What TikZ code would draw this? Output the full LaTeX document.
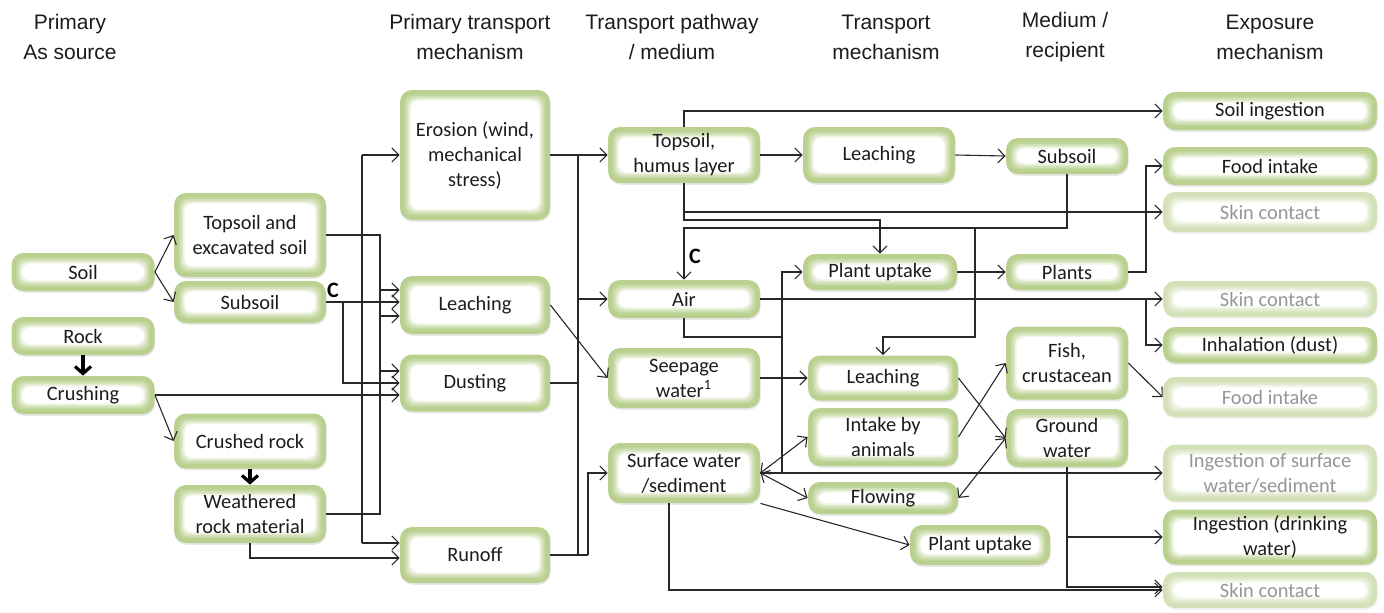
\documentclass[tikz,border=0pt]{standalone}
\usepackage{fontspec}
\setmainfont{Carlito}
\newfontfamily\hdrfont{Liberation Sans}
\usetikzlibrary{arrows.meta,shadows,calc}
\definecolor{gA}{RGB}{186,208,142}
\definecolor{gF}{RGB}{210,225,184}
\definecolor{txt}{RGB}{28,28,28}
\definecolor{ftxt}{RGB}{150,150,150}
\definecolor{ln}{RGB}{40,40,40}
\tikzset{
  sz/.style 2 args={minimum width=#1*0.5pt, minimum height=#2*0.5pt},
  gb/.style={rounded corners=6pt, fill=gA, inner sep=0pt, align=center,
    font=\fontsize{10.2}{12.5}\selectfont, text=txt,
    drop shadow={opacity=0.18, shadow xshift=0.3pt, shadow yshift=-0.9pt},
    path picture={
      \foreach \d/\m in {2.2/85,3.1/65,3.9/45,4.6/25,5.3/0}{
        \fill[gA!\m!white, rounded corners=4pt]
          ([shift={(\d pt,\d pt)}]path picture bounding box.south west) rectangle
          ([shift={(-\d pt,-\d pt)}]path picture bounding box.north east);
      }}},
  gbf/.style={rounded corners=6pt, fill=gF, inner sep=0pt, align=center,
    font=\fontsize{10.2}{12.5}\selectfont, text=ftxt,
    drop shadow={opacity=0.10, shadow xshift=0.3pt, shadow yshift=-0.9pt},
    path picture={
      \foreach \d/\m in {2.2/85,3.1/65,3.9/45,4.6/25,5.3/0}{
        \fill[gF!\m!white, rounded corners=4pt]
          ([shift={(\d pt,\d pt)}]path picture bounding box.south west) rectangle
          ([shift={(-\d pt,-\d pt)}]path picture bounding box.north east);
      }}},
  hdr/.style={align=center, inner sep=0pt, text=txt, font=\hdrfont\fontsize{10.5}{15}\selectfont},
  clab/.style={inner sep=0pt, text=black, font=\bfseries\fontsize{11}{12}\selectfont},
  ln/.style={draw=ln, line width=0.55pt},
  arr/.style={ln, -{Straight Barb[length=3.5pt,width=7pt]}},
  dbl/.style={ln, {Straight Barb[length=3.5pt,width=7pt]}-{Straight Barb[length=3.5pt,width=7pt]}},
  thk/.style={draw=black, line width=1.6pt, -{Straight Barb[length=3.5pt,width=8pt]}},
}
\begin{document}
\begin{tikzpicture}[x=0.5pt,y=-0.5pt]
\useasboundingbox (0,0) rectangle (1384,612);

% headers
\node[hdr] (h1) at (70,37) {Primary\\As source};
\node[hdr] (h2) at (470,37) {Primary transport\\mechanism};
\node[hdr] (h3) at (672,37) {Transport pathway\\/ medium};
\node[hdr] (h4) at (886,37) {Transport\\mechanism};
\node[hdr] (h5) at (1065,37) {Medium /\\recipient};
\node[hdr] (h6) at (1270,37) {Exposure\\mechanism};

% column 1
\node[gb, sz={143}{38}] (soil) at (83,272) {Soil};
\node[gb, sz={143}{38}] (rock) at (83,336) {Rock};
\node[gb, sz={143}{38}] (crush) at (83,395) {Crushing};
% column 2
\node[gb, sz={152}{84}] (tsoil) at (250,235) {Topsoil and\\excavated soil};
\node[gb, sz={152}{42}] (ssoil) at (250,302) {Subsoil};
\node[gb, sz={152}{55}] (crock) at (250,441) {Crushed rock};
\node[gb, sz={152}{58}] (wrock) at (250,514) {Weathered\\rock material};
% column 3
\node[gb, sz={150}{130}] (eros) at (475,155) {Erosion (wind,\\mechanical\\stress)};
\node[gb, sz={150}{58}] (leach) at (475,305) {Leaching};
\node[gb, sz={150}{57}] (dust) at (475,383) {Dusting};
\node[gb, sz={150}{56}] (runoff) at (475,555) {Runoff};
% column 4
\node[gb, sz={152}{56}] (humus) at (684,155) {Topsoil,\\humus layer};
\node[gb, sz={152}{38}] (air) at (684,299) {Air};
\node[gb, sz={152}{60}] (seep) at (684,378) {Seepage\\water\textsuperscript{1}};
\node[gb, sz={152}{60}] (surf) at (684,473) {Surface water\\/sediment};
% column 5
\node[gb, sz={152}{56}] (leach2) at (879,155) {Leaching};
\node[gb, sz={154}{36}] (plant) at (880,272) {Plant uptake};
\node[gb, sz={150}{45}] (leach3) at (883,378) {Leaching};
\node[gb, sz={150}{58}] (intake) at (883,437) {Intake by\\animals};
\node[gb, sz={150}{32}] (flow) at (883,498) {Flowing};
\node[gb, sz={140}{40}] (plant2) at (980,545) {Plant uptake};
% column 6
\node[gb, sz={122}{36}] (sub2) at (1067,156) {Subsoil};
\node[gb, sz={122}{36}] (plants) at (1067,272) {Plants};
\node[gb, sz={122}{73}] (fish) at (1067,363) {Fish,\\crustacean};
\node[gb, sz={122}{58}] (gw) at (1067,438) {Ground\\water};
% column 7
\node[gb, sz={214}{38}] (ingest) at (1270,111) {Soil ingestion};
\node[gb, sz={214}{38}] (food1) at (1270,166) {Food intake};
\node[gbf, sz={214}{40}] (skin1) at (1270,212) {Skin contact};
\node[gbf, sz={214}{36}] (skin2) at (1270,299) {Skin contact};
\node[gb, sz={214}{36}] (inhal) at (1270,345) {Inhalation (dust)};
\node[gbf, sz={214}{40}] (food2) at (1270,397) {Food intake};
\node[gbf, sz={214}{57}] (ingsurf) at (1270,473) {Ingestion of surface\\water/sediment};
\node[gb, sz={214}{55}] (ingdw) at (1270,537) {Ingestion (drinking\\water)};
\node[gbf, sz={214}{36}] (skin3) at (1270,590) {Skin contact};

% bus coordinates
\coordinate (A) at (362,0);
\coordinate (B) at (380,0);
\coordinate (S) at (343,0);
\coordinate (D) at (578,0);
\coordinate (R) at (588,0);
\coordinate (H) at (782,0);
\coordinate (E) at (975,0);
\coordinate (F) at (1146,0);

% left part
\draw[arr] (soil.east) -- (tsoil.west);
\draw[arr] (soil.east) -- (ssoil.west);
\draw[thk] (rock.south) -- (crush.north);
\draw[arr] (crush.east) -- (crock.west);
\draw[thk] (crock.south) -- (wrock.north);
\draw[arr] (crush.east) -- (dust.west |- crush.east);

\draw[ln] (tsoil.east) -- (B |- tsoil.east) -- (B |- wrock.east) -- (wrock.east);
\draw[arr] (B |- 0,290) -- (leach.west |- 0,290);
\draw[arr] (B |- 0,316) -- (leach.west |- 0,316);
\draw[arr] (B |- 0,371) -- (dust.west |- 0,371);
\draw[ln] (A |- eros.west) -- (A |- 0,543);
\draw[arr] (A |- eros.west) -- (eros.west);
\draw[arr] (A |- 0,543) -- (runoff.west |- 0,543);
\draw[arr] (ssoil.east) -- (leach.west |- ssoil.east);
\draw[arr] (S |- ssoil.east) -- (S |- 0,383) -- (dust.west |- 0,383);
\node[clab] (c1) at (333,290) {C};
\draw[arr] (wrock.south) |- (runoff.west |- 0,558);

% column 3 to 4
\draw[arr] (eros.east) -- (humus.west);
\draw[ln] (D |- humus.west) -- (D |- runoff.east);
\draw[ln] (dust.east) -- (D |- dust.east);
\draw[ln, line width=1pt] (runoff.east) -- (R |- runoff.east);
\draw[arr] (D |- air.west) -- (air.west);
\draw[arr] (R |- runoff.east) -- (R |- surf.west) -- (surf.west);
\draw[arr] (leach.east) -- (seep.west);

% column 4 onwards
\draw[arr] (humus.north) |- (ingest.west);
\draw[arr] (humus.east) -- (leach2.west);
\draw[arr] (humus.south) |- (skin1.west);
\draw[arr] (humus.south) -- (humus.south |- 0,220) -- (plant.north |- 0,220) -- (plant.north);
\draw[arr] (sub2.south) -- (sub2.south |- 0,228) -- (air.north |- 0,228) -- (air.north);
\node[clab] (c2) at (695,256) {C};
\draw[arr] (E |- 0,228) -- (E |- 0,337) -- (leach3.north |- 0,337) -- (leach3.north);
\draw[arr] (leach2.east) -- (sub2.west);
\draw[arr] (plant.east) -- (plants.west);
\draw[arr] (plants.east) -- (F |- plants.east) -- (F |- food1.west) -- (food1.west);
\draw[arr] (air.east) -- (skin2.west);
\draw[arr] (F |- air.east) -- (F |- inhal.west) -- (inhal.west);
\draw[ln] (air.south) |- (H |- 0,337);
\draw[arr] (H |- surf.east) -- (H |- plant.west) -- (plant.west);
\draw[arr] (surf.east) -- (ingsurf.west);
\draw[arr] (seep.east) -- (leach3.west |- seep.east);
\draw[dbl] (surf.east) -- (intake.west);
\draw[dbl] (surf.east) -- (flow.west);
\draw[arr] (surf.south east) -- (plant2.west);
\draw[arr] ($(surf.south)+(-15,0)$) |- (skin3.west);
\draw[arr] (leach3.east) -- (gw.west);
\draw[arr] (intake.east) -- (fish.west);
\draw[dbl] (flow.east) -- (gw.west);
\draw[arr] (fish.east) -- (food2.west);
\draw[arr] (gw.south) |- (ingdw.west);
\draw[arr] (gw.south) |- ($(skin3.west)+(0,-3)$);
\end{tikzpicture}
\end{document}
